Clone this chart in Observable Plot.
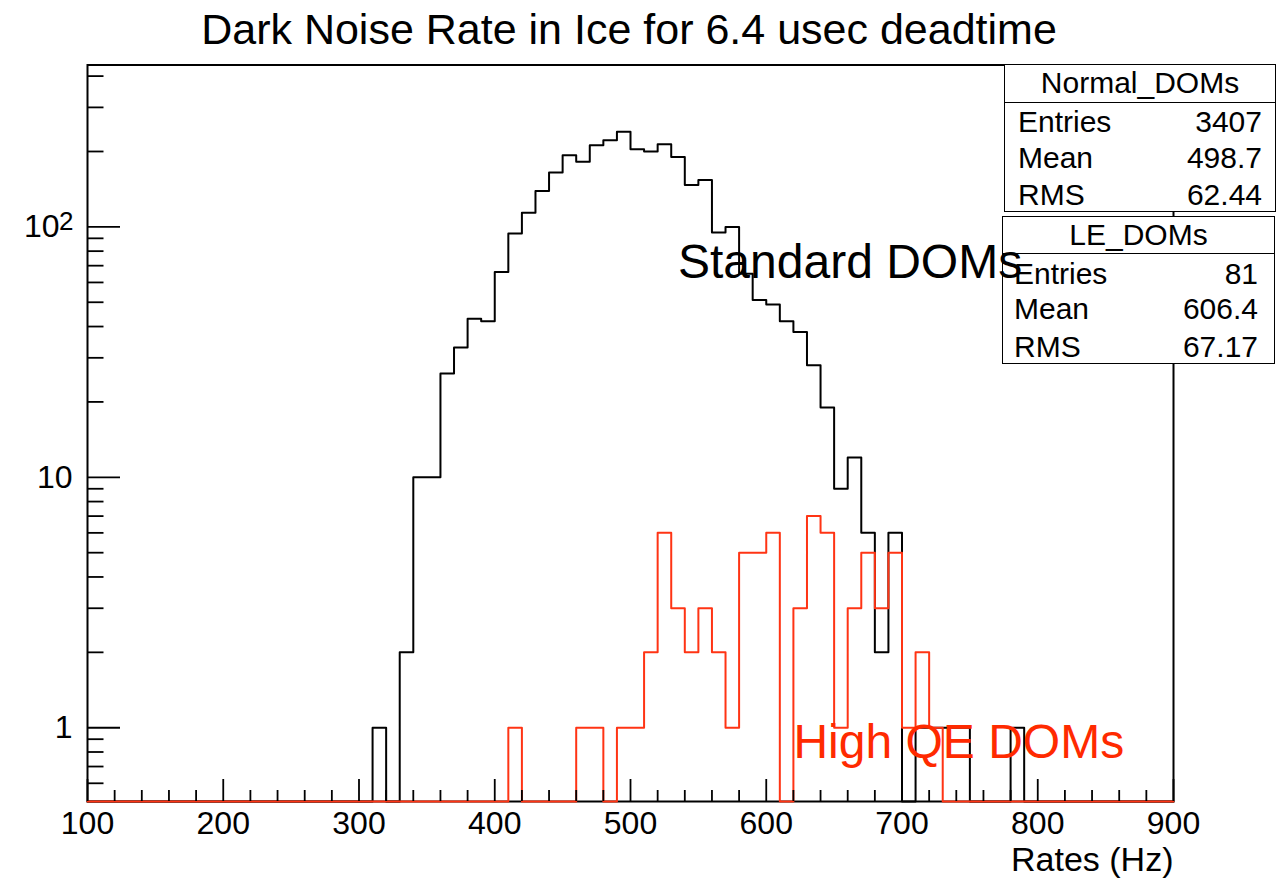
<!DOCTYPE html>
<html>
<head>
<meta charset="utf-8">
<script src="https://cdn.jsdelivr.net/npm/d3@7"></script>
<script src="https://cdn.jsdelivr.net/npm/@observablehq/plot@0.6"></script>
<style>
  body { margin: 0; background: #fff; }
  #chart {
    position: relative; width: 1278px; height: 880px; overflow: hidden;
    font-family: "Liberation Sans", Arial, Helvetica, sans-serif; color: #000;
  }
  #chart svg { position: absolute; left: 0; top: 0; }
  .title {
    position: absolute; left: 0; top: 8px; width: 1258px; text-align: center;
    font-size: 43px; line-height: 43px; white-space: nowrap;
  }
  .stats {
    position: absolute; background: #fff; border: 1.5px solid #000;
    box-sizing: border-box; font-size: 30px;
  }
  .stats .head {
    position: absolute; left: 0; right: 0; top: 0; text-align: center;
    border-bottom: 1.5px solid #000; box-sizing: border-box;
  }
  .stats .row { position: absolute; left: 0; right: 0; height: 36px; line-height: 36px; }
  .stats .row span { position: absolute; top: 0; }
</style>
</head>
<body>
<div id="chart"></div>
<script>
// Histogram binning (Hz)
const rateMin = 100;
const rateMax = 900;
const binWidth = 10;

// Normal DOMs: counts per 10 Hz bin, first bin starting at 310 Hz
const normalStart = 310;
const normalCounts = [
  1, 0, 2, 10, 10, 26, 33, 43, 42, 66,
  94, 114, 139, 165, 193, 182, 212, 222, 240, 204,
  200, 214, 190, 147, 154, 95, 100, 65, 51, 49,
  42, 38, 28, 19, 9, 12, 6, 2, 6, 0,
  1, 1, 1, 1, 0, 0, 0, 1
];

// High QE (LE) DOMs: counts per 10 Hz bin, first bin starting at 410 Hz
const leStart = 410;
const leCounts = [
  1, 0, 0, 0, 0, 1, 1, 0, 1, 1,
  2, 6, 3, 2, 3, 2, 1, 5, 5, 6,
  0, 3, 7, 6, 1, 3, 5, 3, 5, 1,
  2, 1
];

// Statistics boxes
const normalStatsTitle = "Normal_DOMs";
const normalStatsLabels = ["Entries", "Mean", "RMS"];
const normalStatsValues = ["3407", "498.7", "62.44"];
const leStatsTitle = "LE_DOMs";
const leStatsLabels = ["Entries", "Mean", "RMS"];
const leStatsValues = ["81", "606.4", "67.17"];

// Axis ticks and labels
const yFloor = 0.5075;
const yTop = 443;
const xMajorTicks = [100, 200, 300, 400, 500, 600, 700, 800, 900];
const xMinorTicks = d3.range(120, 900, 20).filter(v => v % 100 !== 0);
const yMajorTicks = [1, 10, 100];
const yMinorTicks = [0.6, 0.7, 0.8, 0.9, 2, 3, 4, 5, 6, 7, 8, 9, 20, 30, 40, 50, 60, 70, 80, 90, 200, 300, 400];
const yPlainTicks = [1, 10];
const yPowerTicks = [100];   // drawn as base "10" plus a raised exponent
const yPowerExponent = "2";

const titleText = "Dark Noise Rate in Ice for 6.4 usec deadtime";
const xAxisTitle = "Rates (Hz)";
const annotations = [
  {label: "Standard DOMs", rate: 535, count: 72, color: "#000"},
  {label: "High QE DOMs", rate: 620, count: 0.873, color: "#ff2a00"}
];

const red = "#ff3414";
const font = '"Liberation Sans", Arial, Helvetica, sans-serif';

// Expand a run of counts into outline points over the full range; empty bins sit on the floor
function outline(start, counts) {
  const nBins = (rateMax - rateMin) / binWidth;
  const pts = d3.range(nBins).map(i => {
    const left = rateMin + i * binWidth;
    const j = Math.round((left - start) / binWidth);
    const c = j >= 0 && j < counts.length ? counts[j] : 0;
    return {rate: left, count: Math.max(c, yFloor)};
  });
  pts.push({rate: rateMax, count: pts[pts.length - 1].count});
  return pts;
}

const normalLine = outline(normalStart, normalCounts);
const leLine = outline(leStart, leCounts);

const frameOpts = {
  width: 1278, height: 880,
  marginLeft: 87, marginRight: 105, marginTop: 64.5, marginBottom: 79,
  x: {domain: [rateMin, rateMax]},
  y: {type: "log", domain: [yFloor, yTop]}
};

const chart = Plot.plot({
  ...frameOpts,
  style: {fontFamily: font, fontSize: "32px", color: "#000", background: "transparent", overflow: "visible"},
  marks: [
    Plot.frame({stroke: "#000", strokeWidth: 2}),
    Plot.line(normalLine, {x: "rate", y: "count", curve: "step-after", stroke: "#000", strokeWidth: 2}),
    Plot.line(leLine, {x: "rate", y: "count", curve: "step-after", stroke: red, strokeWidth: 2}),
    Plot.axisX({ticks: xMajorTicks, tickSize: -22, tickFormat: () => "", label: null, strokeWidth: 1.8}),
    Plot.axisX({ticks: xMinorTicks, tickSize: -11, tickFormat: () => "", label: null, strokeWidth: 1.8}),
    Plot.axisX({ticks: xMajorTicks, tickSize: 0, tickPadding: 10, label: null}),
    Plot.axisY({ticks: yMajorTicks, tickSize: -33, tickFormat: () => "", label: null, strokeWidth: 1.8}),
    Plot.axisY({ticks: yMinorTicks, tickSize: -16.5, tickFormat: () => "", label: null, strokeWidth: 1.8}),
    Plot.axisY({ticks: yPlainTicks, tickSize: 0, tickPadding: 15, tickFormat: d => String(d), label: null}),
    Plot.axisY({ticks: yPowerTicks, tickSize: 0, tickPadding: 28, tickFormat: () => "10", label: null}),
    Plot.text(yPowerTicks, {y: d => d, frameAnchor: "left", text: () => yPowerExponent, textAnchor: "end", lineAnchor: "middle", dx: -14, dy: -5, fontSize: 26}),
    Plot.text([xAxisTitle], {frameAnchor: "bottom-right", text: d => d, textAnchor: "end", lineAnchor: "middle", dy: 59, fontSize: 34})
  ]
});

// Annotation layer, drawn above the statistics boxes
const labels = Plot.plot({
  ...frameOpts,
  x: {...frameOpts.x, axis: null},
  y: {...frameOpts.y, axis: null},
  style: {fontFamily: font, background: "transparent", overflow: "visible"},
  marks: [
    Plot.text(annotations, {x: "rate", y: "count", text: "label", fill: "color", textAnchor: "start", lineAnchor: "middle", fontSize: 48})
  ]
});

const root = document.getElementById("chart");
root.appendChild(chart);

const title = document.createElement("div");
title.className = "title";
title.textContent = titleText;
root.appendChild(title);

function statsBox(box, name, keys, values) {
  const el = document.createElement("div");
  el.className = "stats";
  Object.assign(el.style, {left: box.left + "px", top: box.top + "px", width: box.width + "px", height: box.height + "px"});
  const head = document.createElement("div");
  head.className = "head";
  Object.assign(head.style, {height: box.head + "px", lineHeight: (box.head - 2) + "px"});
  head.textContent = name;
  el.appendChild(head);
  keys.forEach((k, i) => {
    const row = document.createElement("div");
    row.className = "row";
    row.style.top = (box.rows[i] - 18) + "px";
    const a = document.createElement("span");
    a.textContent = k; a.style.left = box.padL + "px";
    const b = document.createElement("span");
    b.textContent = values[i]; b.style.right = box.padR + "px";
    row.appendChild(a); row.appendChild(b);
    el.appendChild(row);
  });
  root.appendChild(el);
}

statsBox({left: 1004, top: 64, width: 272, height: 148, head: 38, rows: [57, 93, 130], padL: 13, padR: 13},
  normalStatsTitle, normalStatsLabels, normalStatsValues);
statsBox({left: 1002, top: 216, width: 273, height: 148, head: 37, rows: [57, 92, 130], padL: 11, padR: 16},
  leStatsTitle, leStatsLabels, leStatsValues);

root.appendChild(labels);
</script>
</body>
</html>
